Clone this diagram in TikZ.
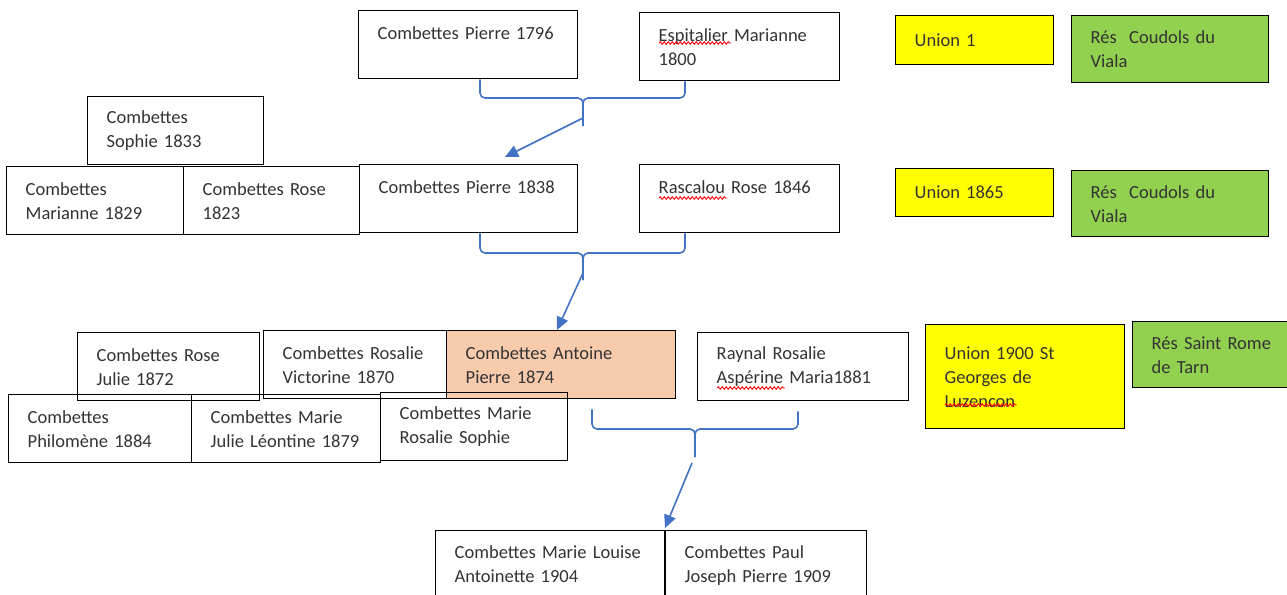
\documentclass[tikz,border=0pt]{standalone}
\usepackage{fontspec}
\setmainfont{Carlito}
\usetikzlibrary{arrows.meta,decorations.pathmorphing}
\definecolor{wordblue}{HTML}{4472C4}
\definecolor{unionyellow}{HTML}{FFFF00}
\definecolor{resgreen}{HTML}{92D050}
\definecolor{peach}{HTML}{F8CBAD}

\begin{document}
\begin{tikzpicture}[x=1pt,y=-1pt,
  card/.style={draw=black,line width=1.4pt,anchor=north west,align=left,inner xsep=19pt,inner ysep=0pt,
    text=black!80,font=\fontsize{18.5pt}{24pt}\selectfont},
  union/.style={card,fill=unionyellow},
  res/.style={card,fill=resgreen},
  brace/.style={wordblue,line width=1.6pt,rounded corners=5pt},
  link/.style={wordblue,line width=1.6pt,-{Triangle[length=13pt,width=12pt]}},
  spell/.style={red,line width=0.9pt,decorate,decoration={snake,amplitude=1.3pt,segment length=4pt}}]
  \path[use as bounding box] (0,0) rectangle (1287,594);
  \clip (0,0) rectangle (1287,594);

  \node[card,text width=181pt,minimum height=68pt] (p1796) at (358,10) {Combettes Pierre 1796\\\mbox{}};
  \node[card,text width=162pt,minimum height=68pt] (espit) at (639,12) {Espitalier Marianne\\1800};
  \node[union,text width=120pt,minimum height=49pt] (union1) at (895,15) {Union 1};
  \node[res,text width=159pt,minimum height=67pt] (res1) at (1071,15) {Rés~ Coudols du\\Viala};

  \node[card,text width=138pt,minimum height=68pt] (sophie) at (87,96) {Combettes\\Sophie 1833};
  \node[card,text width=139pt,minimum height=68pt] (mar1829) at (6,166) {Combettes\\Marianne 1829};
  \node[card,text width=138pt,minimum height=68pt] (rose1823) at (183,166) {Combettes Rose\\1823};
  \node[card,text width=180pt,minimum height=68pt] (p1838) at (359,164) {Combettes Pierre 1838\\\mbox{}};
  \node[card,text width=162pt,minimum height=68pt] (rascal) at (639,164) {Rascalou Rose 1846\\\mbox{}};
  \node[union,text width=120pt,minimum height=48pt] (union1865) at (895,168) {Union 1865};
  \node[res,text width=159pt,minimum height=66pt] (res2) at (1071,170) {Rés~ Coudols du\\Viala};

  \node[card,text width=144pt,minimum height=68pt] (rose1872) at (77,332) {Combettes Rose\\Julie 1872};
  \node[card,text width=145pt,minimum height=68pt] (rosal1870) at (263,330) {Combettes Rosalie\\Victorine 1870};
  \node[card,fill=peach,text width=191pt,minimum height=68pt] (antoine) at (446,330) {Combettes Antoine\\Pierre 1874};
  \node[card,text width=173pt,minimum height=68pt] (raynal) at (697,332) {Raynal Rosalie\\Aspérine Maria1881};
  \node[union,text width=161pt,minimum height=104pt] (union1900) at (925,324) {Union 1900 St\\Georges de\\Luzencon};
  \node[res,text width=150pt,minimum height=66pt] (res3) at (1132,321) {Rés Saint Rome\\de Tarn};

  \node[card,text width=145pt,minimum height=68pt] (philo) at (8,394) {Combettes\\Philomène 1884};
  \node[card,text width=151pt,minimum height=68pt] (mjulie) at (191,394) {Combettes Marie\\Julie Léontine 1879};
  \node[card,text width=149pt,minimum height=68pt] (mrosal) at (380,392) {Combettes Marie\\Rosalie Sophie};

  \node[card,text width=191pt,minimum height=90pt] (mlouise) at (435,530) {Combettes Marie Louise\\Antoinette 1904\\\mbox{}};
  \node[card,text width=163pt,minimum height=90pt] (paul) at (665,530) {Combettes Paul\\Joseph Pierre 1909\\\mbox{}};

  \coordinate (k1) at (583,98);
  \coordinate (k2) at (583,253);
  \coordinate (k3) at (695,429);
  \draw[brace] ([xshift=122pt]p1796.south west) |- (k1) -- ++(0,28);
  \draw[brace] ([xshift=46pt]espit.south west) |- (k1) -- ++(0,28);
  \draw[brace] ([xshift=121pt]p1838.south west) |- (k2) -- ++(0,27);
  \draw[brace] ([xshift=46pt]rascal.south west) |- (k2) -- ++(0,27);
  \draw[brace] ([xshift=146pt,yshift=-10pt]antoine.south west) |- (k3) -- ++(0,28);
  \draw[brace] ([xshift=101pt,yshift=-10pt]raynal.south west) |- (k3) -- ++(0,28);

  \draw[link] ([yshift=-20pt]k1) -- ([xshift=146pt,yshift=7pt]p1838.north west);
  \draw[link] ([yshift=-20pt]k2) -- ([xshift=111pt]antoine.north west);
  \draw[link] ([xshift=-3pt,yshift=-34pt]k3) -- ([yshift=2pt]paul.north west);

  \draw[spell] (659,43) -- (731,43);
  \draw[spell] (659,198) -- (727,198);
  \draw[spell] (717,388) -- (785,388);
  \draw[spell] (945,405) -- (1017,405);
\end{tikzpicture}
\end{document}
